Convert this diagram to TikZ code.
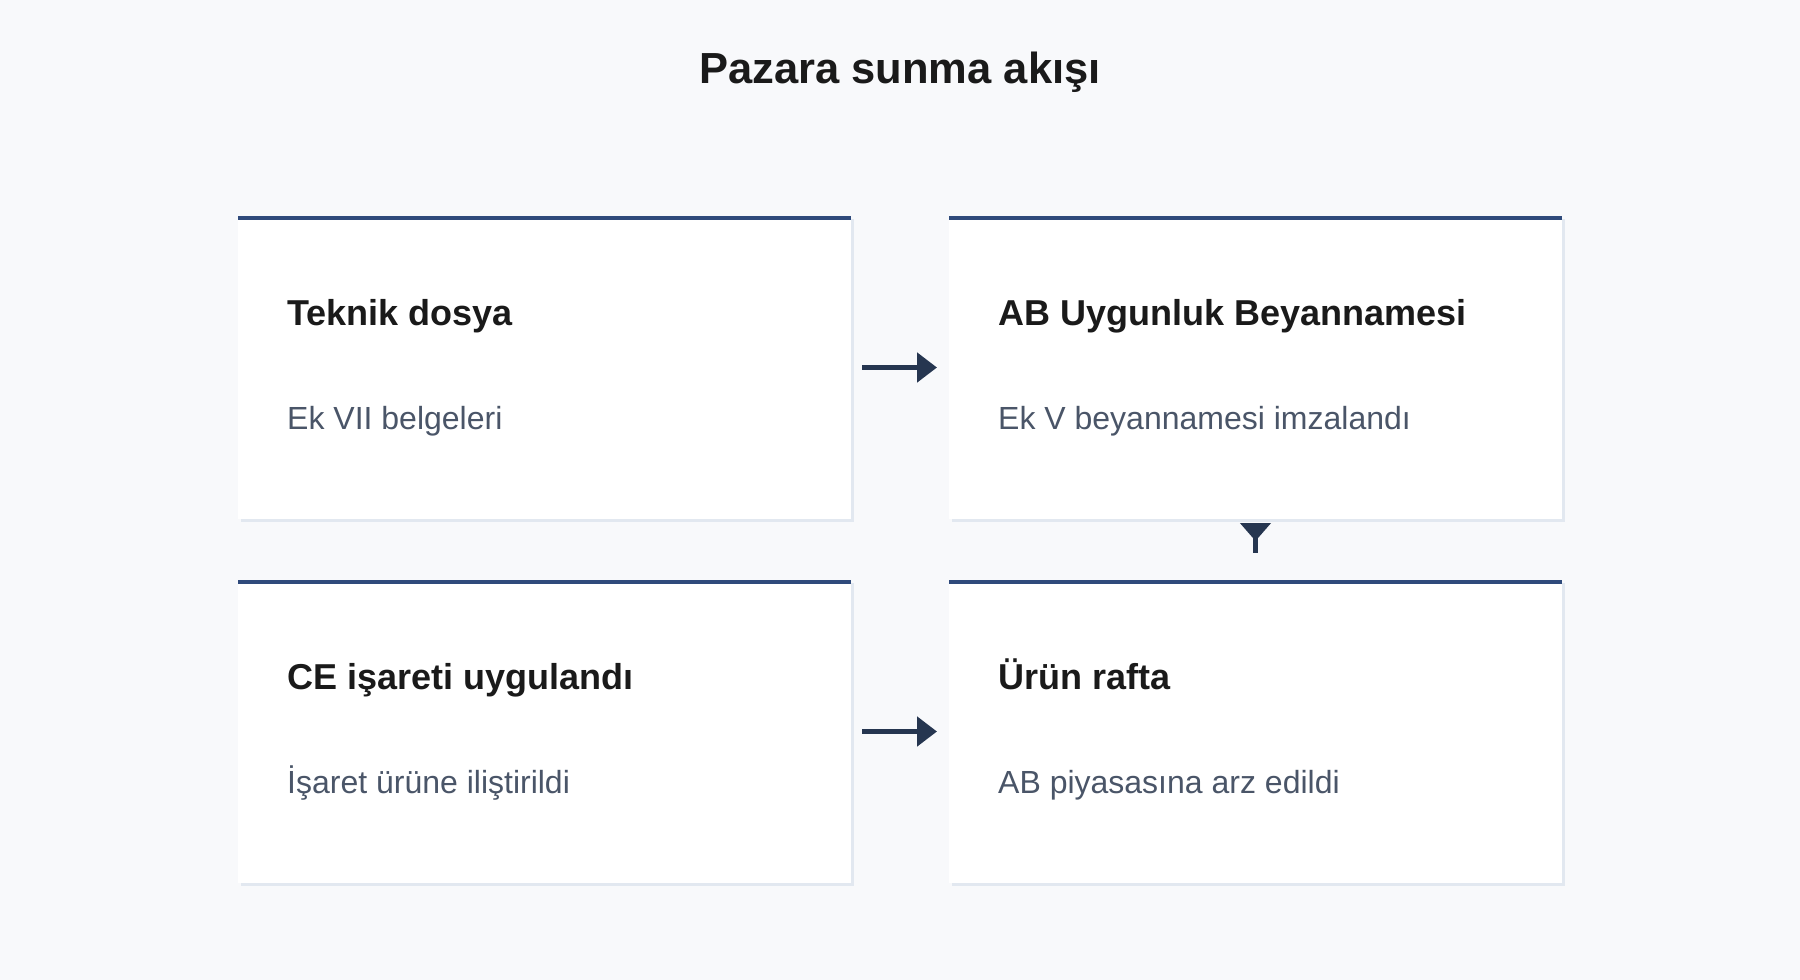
\documentclass[tikz,border=0pt]{standalone}
\usepackage{fontspec}
\setmainfont{Liberation Sans}
\usepackage{xcolor}
\usepackage{tikz}
\usetikzlibrary{positioning}
\usetikzlibrary{arrows.meta}
\usetikzlibrary{shadows}
\pgfdeclarelayer{bglayer}
\pgfdeclarelayer{nodelayer}
\pgfdeclarelayer{edgelayer}
\pgfsetlayers{bglayer,nodelayer,edgelayer,main}

\definecolor{pagebg}{HTML}{F8F9FB}
\definecolor{cardedge}{HTML}{E2E8F0}
\definecolor{barc}{HTML}{2F4A7B}
\definecolor{flowc}{HTML}{263650}
\definecolor{headc}{HTML}{1A1A1A}
\definecolor{subc}{HTML}{4A5568}

\tikzset{
  card/.style={rectangle, fill=white, inner sep=0pt, outer sep=0pt,
    minimum width=613pt, minimum height=303pt,
    general shadow={fill=cardedge, shadow xshift=2.5pt, shadow yshift=-2.5pt}},
  heading/.style={anchor=base west, inner sep=0pt, text=headc,
    font=\fontsize{36}{43}\selectfont\bfseries},
  subline/.style={anchor=base west, inner sep=0pt, text=subc,
    font=\fontsize{32}{38}\selectfont},
  pagetitle/.style={anchor=base, inner sep=0pt, text=headc,
    font=\fontsize{43.5}{52}\selectfont\bfseries},
  topbar/.style={draw=barc, line width=4.4pt},
  flow/.style={draw=flowc, line width=5pt, -{Triangle[length=20pt,width=29pt]}},
  drop/.style={draw=flowc, line width=5pt, {Triangle[reversed,length=18pt,width=30pt]}-},
}

\begin{document}
\begin{tikzpicture}[x=1pt, y=-1pt]
  \begin{pgfonlayer}{bglayer}
    \fill[pagebg] (0, 0) rectangle (1800, 980);
  \end{pgfonlayer}
  \useasboundingbox (0, 0) rectangle (1800, 980);
  \begin{pgfonlayer}{nodelayer}
    \node [card] (0) at (544.5, 367.5) {};
    \node [card] (1) at (1255.5, 367.5) {};
    \node [card] (2) at (544.5, 731.5) {};
    \node [card] (3) at (1255.5, 731.5) {};
  \end{pgfonlayer}
  \node [pagetitle] (t) at (900, 83) {Pazara sunma akışı};
  \node [heading] (4) at (287, 325) {Teknik dosya};
  \node [subline] (5) at (287, 429) {Ek VII belgeleri};
  \node [heading] (6) at (998, 325) {AB Uygunluk Beyannamesi};
  \node [subline] (7) at (998, 429) {Ek V beyannamesi imzalandı};
  \node [heading] (8) at (287, 689) {CE işareti uygulandı};
  \node [subline] (9) at (287, 793) {İşaret ürüne iliştirildi};
  \node [heading] (10) at (998, 689) {Ürün rafta};
  \node [subline] (11) at (998, 793) {AB piyasasına arz edildi};
  \begin{pgfonlayer}{edgelayer}
    \foreach \n in {0,1,2,3}
      \draw [topbar] ([yshift=-2pt]\n.north west) to ([yshift=-2pt]\n.north east);
    \draw [flow, shorten <=11pt, shorten >=12pt] (0) to (1);
    \draw [flow, shorten <=11pt, shorten >=12pt] (2) to (3);
    \draw [drop, shorten <=4pt, shorten >=27pt] (1) to (3);
  \end{pgfonlayer}
\end{tikzpicture}
\end{document}
